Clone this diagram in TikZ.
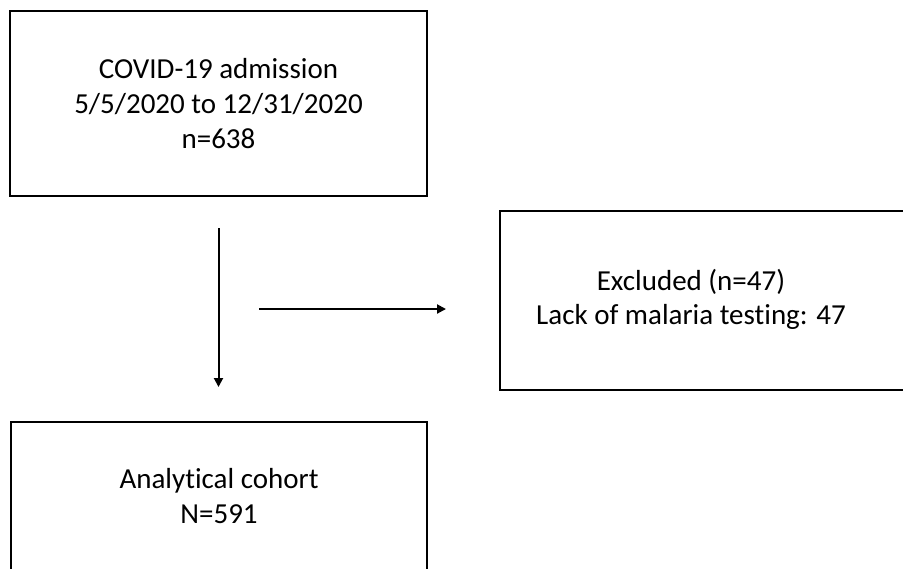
\documentclass[tikz,border=0pt]{standalone}
\usepackage{fontspec}
\setmainfont{Carlito}[Ligatures=NoCommon]
\usetikzlibrary{arrows.meta}
\tikzset{
  flowbox/.style={draw, line width=1pt, align=center, inner sep=0pt,
    font=\fontsize{14.5}{17.4}\selectfont},
  flowarrow/.style={line width=1pt, -{Triangle[length=4.5pt,width=4.5pt]}}
}
\begin{document}
\begin{tikzpicture}[x=0.5pt, y=-0.5pt]
  \useasboundingbox (0,0) rectangle (903,568);
  \clip (0,0) rectangle (903,568);
  % boxes
  \node[flowbox, minimum width=208.5pt, minimum height=92.5pt] (adm) at (218.5,103.5)
    {COVID-19 admission\\5/5/2020 to 12/31/2020\\n=638};
  \node[flowbox, minimum width=205pt, minimum height=89.5pt] (excl) at (705,300.5)
    {\begin{tabular}{@{}c@{}}Excluded (n=47)\\Lack of malaria testing: 47\end{tabular}\hspace{14pt}};
  \node[flowbox, minimum width=208pt, minimum height=74pt] (cohort) at (219,496)
    {Analytical cohort\\N=591};
  % arrows
  \coordinate (split) at (219,309);
  \draw[flowarrow, shorten <=15.5pt, shorten >=17pt] (adm.south) -- (adm.south |- cohort.north);
  \draw[flowarrow, shorten <=20pt, shorten >=26.5pt] (split) -- (split -| excl.west);
\end{tikzpicture}
\end{document}
